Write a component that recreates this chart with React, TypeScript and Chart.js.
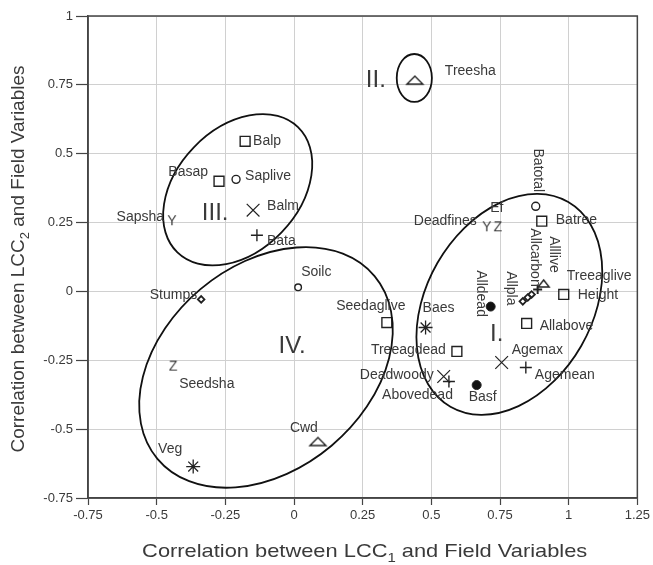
import { useEffect, useRef } from 'react';
import { Chart, registerables } from 'chart.js';

Chart.register(...registerables);

const FONT = "'Liberation Sans', Arial, Helvetica, sans-serif";
const INK = '#222';
const TEXT = '#3a3a3a';

// Field variables and their correlations with the two canonical components
const variables = [
  'Treesha', 'Balp', 'Basap', 'Saplive', 'Balm', 'Bata', 'Sapsha', 'Stumps',
  'Soilc', 'Seedsha', 'Veg', 'Cwd', 'Seedaglive', 'Baes', 'Treeagdead', 'Deadwoody',
  'Abovedead', 'Basf', 'Agemax', 'Agemean', 'Alldead', 'Allpla', '', 'Alllive',
  'Allcarbon', 'Treeaglive', 'Height', 'Allabove', 'Batree', 'Batotal', 'Deadfines', 'Ef',
];
const lcc1 = [
  0.44, -0.178, -0.273, -0.211, -0.149, -0.135, -0.444, -0.338,
  0.015, -0.44, -0.367, 0.087, 0.338, 0.479, 0.593, 0.545,
  0.564, 0.665, 0.756, 0.844, 0.716, 0.833, 0.851, 0.865,
  0.887, 0.909, 0.982, 0.847, 0.902, 0.88, 0.702, 0.742,
];
const lcc2 = [
  0.767, 0.545, 0.4, 0.407, 0.295, 0.204, 0.255, -0.029,
  0.015, -0.273, -0.636, -0.545, -0.113, -0.131, -0.218, -0.309,
  -0.327, -0.34, -0.258, -0.276, -0.055, -0.036, -0.022, -0.011,
  0.007, 0.029, -0.011, -0.116, 0.255, 0.309, 0.233, 0.233,
];

// Marker symbol for each variable
const markerKind = [
  'tri', 'square', 'square', 'ring', 'x', 'plus', 'Y', 'diamond',
  'ringSmall', 'Z', 'star', 'tri', 'square', 'star', 'square', 'x',
  'plus', 'dot', 'x', 'plus', 'dot', 'diamond', 'diamond', 'diamond',
  'plusSmall', 'triSmall', 'square', 'square', 'square', 'ring', 'Y', 'Z',
];

// Label placement relative to its marker: [dx, dy, mode] (mode v = vertical text)
const labelPlacement: [number, number, string][] = [
  [30, -9, 'left'], [8, 0, 'left'], [-11, -9, 'right'], [9, -3, 'left'],
  [14, -4, 'left'], [10, 6, 'left'], [-8, -4, 'right'], [-4, -4, 'right'],
  [3, -15, 'left'], [6, 18, 'left'], [-11, -17, 'right'], [0, -13, 'right'],
  [-16, -16, 'center'], [13, -19, 'center'], [-11, -1, 'right'], [-10, -1, 'right'],
  [4, 14, 'right'], [6, 12, 'center'], [10, -12, 'left'], [9, 8, 'left'],
  [-10, -13, 'v'], [-12, -13, 'v'], [0, 0, 'left'], [22, -40, 'v'],
  [-3, -32, 'v'], [23, -7, 'left'], [14, 1, 'left'], [13, 3, 'left'],
  [14, -1, 'left'], [2, -36, 'v'], [-10, -6, 'right'], [-1, -19, 'center'],
];

// Variable groups drawn as ellipses (data units, rotation in degrees)
const groupNames = ['I.', 'II.', 'III.', 'IV.'];
const groupCx = [0.784, 0.438, -0.205, -0.102];
const groupCy = [-0.047, 0.775, 0.369, -0.276];
const groupRx = [0.429, 0.064, 0.316, 0.516];
const groupRy = [0.302, 0.087, 0.222, 0.371];
const groupAngle = [60, 0, 46, 40];
const groupLabelX = [0.738, 0.298, -0.287, -0.007];
const groupLabelY = [-0.156, 0.767, 0.284, -0.2];

const xTickValues = [-0.75, -0.5, -0.25, 0, 0.25, 0.5, 0.75, 1, 1.25];
const xTickLabels = ['-0.75', '-0.5', '-0.25', '0', '0.25', '0.5', '0.75', '1', '1.25'];
const yTickValues = [-0.75, -0.5, -0.25, 0, 0.25, 0.5, 0.75, 1];
const yTickLabels = ['-0.75', '-0.5', '-0.25', '0', '0.25', '0.5', '0.75', '1'];

function glyphMarker(ch: string, size: number): HTMLCanvasElement {
  const c = document.createElement('canvas');
  c.width = 14;
  c.height = 14;
  const g = c.getContext('2d')!;
  g.fillStyle = TEXT;
  g.font = `${size}px ${FONT}`;
  g.textAlign = 'center';
  g.textBaseline = 'middle';
  g.fillText(ch, 7, 7.5);
  return c;
}

function triangleMarker(w: number, h: number): HTMLCanvasElement {
  const c = document.createElement('canvas');
  c.width = w + 4;
  c.height = h + 4;
  const g = c.getContext('2d')!;
  g.strokeStyle = INK;
  g.lineWidth = 1.4;
  g.beginPath();
  g.moveTo(2, h + 2);
  g.lineTo(w + 2, h + 2);
  g.lineTo(w / 2 + 2, 2);
  g.closePath();
  g.stroke();
  return c;
}

function markerProps(kind: string, shapes: Record<string, HTMLCanvasElement>) {
  switch (kind) {
    case 'square': return { style: 'rect', r: 7, fill: 'rgba(0,0,0,0)', bw: 1.4 };
    case 'ring': return { style: 'circle', r: 4, fill: 'rgba(0,0,0,0)', bw: 1.4 };
    case 'ringSmall': return { style: 'circle', r: 3.3, fill: 'rgba(0,0,0,0)', bw: 1.4 };
    case 'dot': return { style: 'circle', r: 4.5, fill: '#111', bw: 1 };
    case 'diamond': return { style: 'rectRot', r: 3.3, fill: 'rgba(0,0,0,0)', bw: 1.8 };
    case 'plus': return { style: 'cross', r: 6, fill: INK, bw: 1.4 };
    case 'plusSmall': return { style: 'cross', r: 4.5, fill: INK, bw: 2 };
    case 'x': return { style: 'crossRot', r: 9, fill: INK, bw: 1.2 };
    case 'star': return { style: 'star', r: 7, fill: INK, bw: 1.3 };
    default: return { style: shapes[kind], r: 6, fill: INK, bw: 1 };
  }
}

const overlay = {
  id: 'overlay',
  afterDatasetsDraw(chart: any) {
    const { ctx, chartArea } = chart;
    const xs = chart.scales.x;
    const ys = chart.scales.y;
    const sx = xs.getPixelForValue(1) - xs.getPixelForValue(0);
    const sy = ys.getPixelForValue(0) - ys.getPixelForValue(1);

    ctx.save();
    ctx.beginPath();
    ctx.rect(chartArea.left, chartArea.top, chartArea.width, chartArea.height);
    ctx.clip();

    // group ellipses
    ctx.strokeStyle = '#111';
    ctx.lineWidth = 1.8;
    groupNames.forEach((_, i) => {
      ctx.save();
      ctx.translate(xs.getPixelForValue(groupCx[i]), ys.getPixelForValue(groupCy[i]));
      ctx.scale(sx, -sy);
      ctx.rotate((groupAngle[i] * Math.PI) / 180);
      ctx.beginPath();
      ctx.ellipse(0, 0, groupRx[i], groupRy[i], 0, 0, Math.PI * 2);
      ctx.restore();
      ctx.stroke();
    });

    // group numerals
    ctx.fillStyle = TEXT;
    ctx.font = `24px ${FONT}`;
    ctx.textAlign = 'center';
    ctx.textBaseline = 'middle';
    groupNames.forEach((g, i) => {
      ctx.fillText(g, xs.getPixelForValue(groupLabelX[i]), ys.getPixelForValue(groupLabelY[i]));
    });

    // variable labels
    ctx.font = `14px ${FONT}`;
    variables.forEach((name, i) => {
      if (!name) return;
      const px = xs.getPixelForValue(lcc1[i]);
      const py = ys.getPixelForValue(lcc2[i]);
      const [dx, dy, mode] = labelPlacement[i];
      if (mode === 'v') {
        ctx.save();
        ctx.translate(px + dx, py + dy);
        ctx.rotate(Math.PI / 2);
        ctx.textAlign = 'center';
        ctx.fillText(name, 0, 0);
        ctx.restore();
      } else {
        ctx.textAlign = mode;
        ctx.fillText(name, px + dx, py + dy);
      }
    });
    ctx.restore();
  },
  afterDraw(chart: any) {
    const { ctx, chartArea } = chart;
    ctx.save();
    ctx.strokeStyle = '#444';
    ctx.lineWidth = 1.5;
    ctx.strokeRect(chartArea.left, chartArea.top, chartArea.width, chartArea.height);

    // axis titles with subscripts
    const drawTitle = (
      main: string, sub: string, rest: string,
      cx: number, cy: number, rot: number, stretch: number,
    ) => {
      ctx.save();
      ctx.translate(cx, cy);
      ctx.rotate(rot);
      ctx.scale(stretch, 1);
      ctx.fillStyle = TEXT;
      ctx.textBaseline = 'alphabetic';
      ctx.textAlign = 'left';
      const big = `19px ${FONT}`;
      const small = `13px ${FONT}`;
      ctx.font = big;
      const w1 = ctx.measureText(main).width;
      const w3 = ctx.measureText(rest).width;
      ctx.font = small;
      const w2 = ctx.measureText(sub).width;
      let x0 = -(w1 + w2 + w3) / 2;
      ctx.font = big;
      ctx.fillText(main, x0, 0);
      x0 += w1;
      ctx.font = small;
      ctx.fillText(sub, x0, 5);
      x0 += w2;
      ctx.font = big;
      ctx.fillText(rest, x0, 0);
      ctx.restore();
    };
    const midX = (chartArea.left + chartArea.right) / 2;
    const midY = (chartArea.top + chartArea.bottom) / 2;
    drawTitle('Correlation between LCC', '1', ' and Field Variables', midX + 2, 557, 0, 1.15);
    drawTitle('Correlation between LCC', '2', ' and Field Variables', 24, midY + 2, -Math.PI / 2, 1);
    ctx.restore();
  },
};

export default function App() {
  const canvasRef = useRef<HTMLCanvasElement | null>(null);

  useEffect(() => {
    document.body.style.margin = '0';
    const shapes: Record<string, HTMLCanvasElement> = {
      tri: triangleMarker(16, 8),
      triSmall: triangleMarker(11, 7),
      Y: glyphMarker('Y', 14),
      Z: glyphMarker('Z', 14),
    };
    const props = markerKind.map((k) => markerProps(k, shapes));

    const chart = new Chart(canvasRef.current!, {
      type: 'scatter',
      data: {
        datasets: [
          {
            data: variables.map((_, i) => ({ x: lcc1[i], y: lcc2[i] })),
            pointStyle: props.map((p) => p.style) as any,
            pointRadius: props.map((p) => p.r),
            pointBackgroundColor: props.map((p) => p.fill),
            pointBorderColor: INK,
            pointBorderWidth: props.map((p) => p.bw),
          },
        ],
      },
      options: {
        animation: false,
        responsive: false,
        devicePixelRatio: 1,
        events: [],
        layout: { padding: { top: 16, right: 15, left: 0, bottom: 0 } },
        plugins: { legend: { display: false }, tooltip: { enabled: false } },
        scales: {
          x: {
            type: 'linear',
            min: -0.75,
            max: 1.25,
            afterBuildTicks: (s: any) => {
              s.ticks = xTickValues.map((v) => ({ value: v }));
            },
            afterFit: (s: any) => {
              s.height = 67;
            },
            ticks: {
              autoSkip: false,
              maxRotation: 0,
              padding: 3,
              color: TEXT,
              font: { family: FONT, size: 13 },
              callback: (v: any) => xTickLabels[xTickValues.indexOf(Number(v))] ?? '',
            },
            grid: { color: '#d0d0d0', lineWidth: 1, tickColor: '#444', tickLength: 7, tickWidth: 1.2 },
            border: { color: '#444', width: 1.5 },
          },
          y: {
            type: 'linear',
            min: -0.75,
            max: 1,
            afterBuildTicks: (s: any) => {
              s.ticks = yTickValues.map((v) => ({ value: v }));
            },
            afterFit: (s: any) => {
              s.width = 88;
            },
            ticks: {
              autoSkip: false,
              padding: 3,
              color: TEXT,
              font: { family: FONT, size: 13 },
              callback: (v: any) => yTickLabels[yTickValues.indexOf(Number(v))] ?? '',
            },
            grid: { color: '#d0d0d0', lineWidth: 1, tickColor: '#444', tickLength: 12, tickWidth: 1.2 },
            border: { color: '#444', width: 1.5 },
          },
        },
      },
      plugins: [overlay],
    });
    return () => chart.destroy();
  }, []);

  return (
    <div style={{ width: 653, height: 565, background: '#fff' }}>
      <canvas ref={canvasRef} width={653} height={565} />
    </div>
  );
}
